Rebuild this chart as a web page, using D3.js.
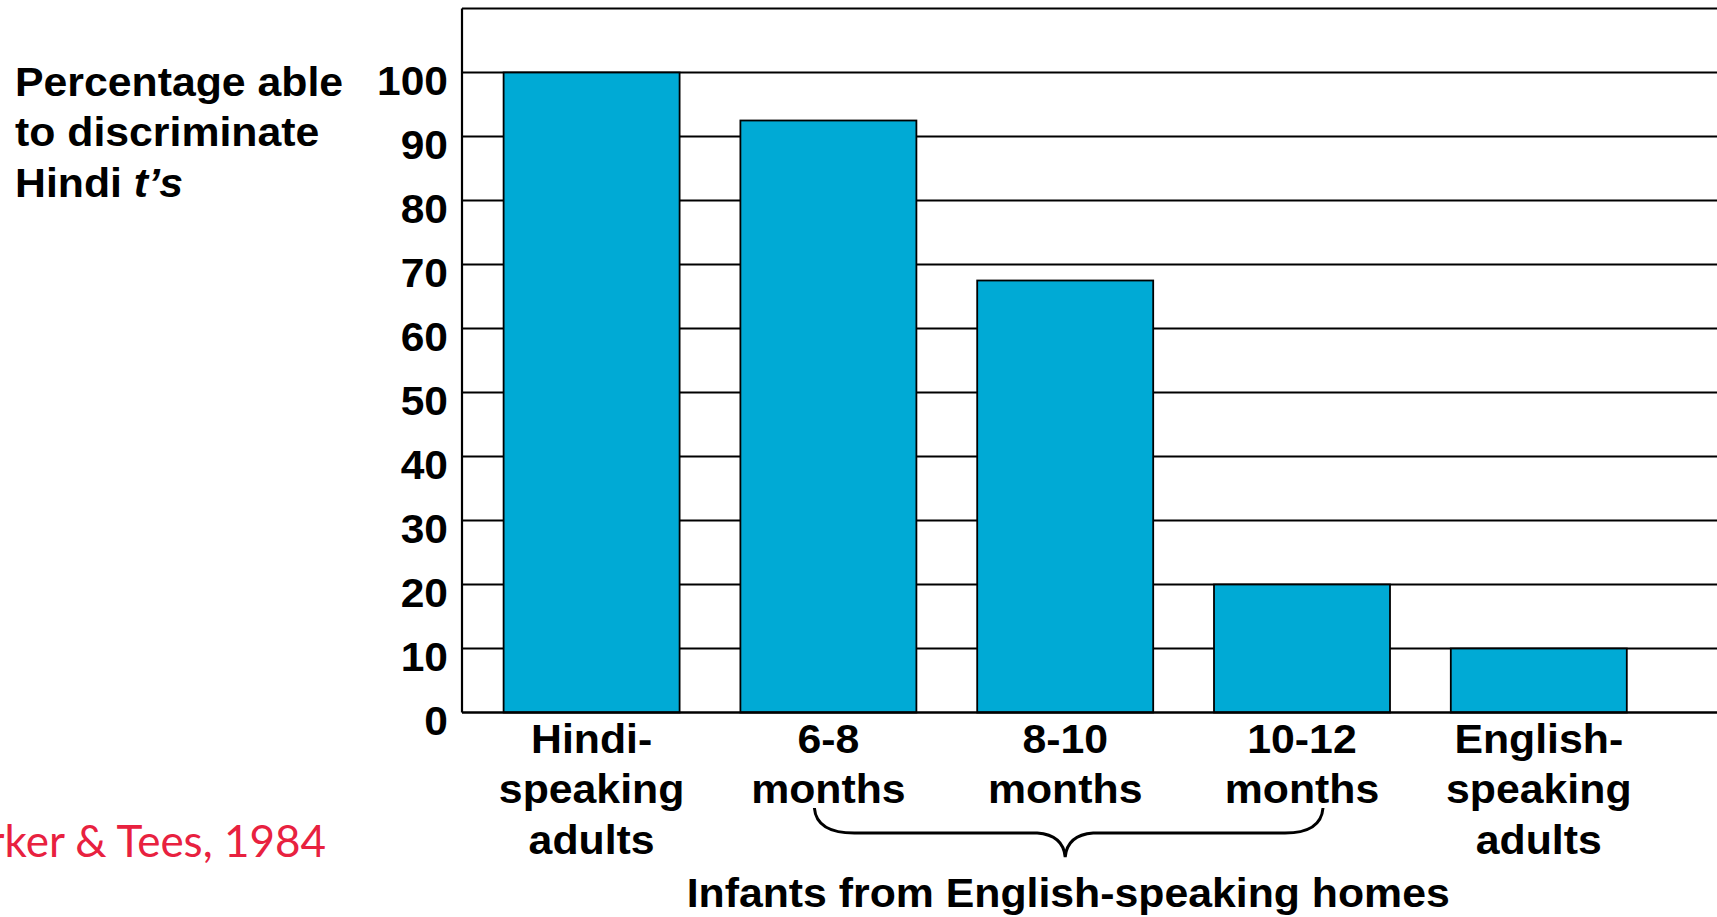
<!DOCTYPE html>
<html>
<head>
<meta charset="utf-8">
<script src="https://cdn.jsdelivr.net/npm/d3@7"></script>
<style>
  html, body { margin: 0; padding: 0; background: #ffffff; overflow: hidden; }
  svg { display: block; }
  text { font-family: "Liberation Sans", Arial, Helvetica, sans-serif; font-weight: bold; fill: #000; }
</style>
</head>
<body>
<svg id="chart" width="1717" height="917"></svg>
<script>
// Share of listeners able to tell apart the two Hindi "t" sounds
const categories = ["hindiAdults", "m6to8", "m8to10", "m10to12", "englishAdults"];
const categoryLabels = [
  ["Hindi-", "speaking", "adults"],
  ["6-8", "months"],
  ["8-10", "months"],
  ["10-12", "months"],
  ["English-", "speaking", "adults"]
];
const percentages = [100, 92.5, 67.5, 20, 10];
const tickValues = [0, 10, 20, 30, 40, 50, 60, 70, 80, 90, 100];
const gridValues = [10, 20, 30, 40, 50, 60, 70, 80, 90, 100, 110];
const infantGroup = ["m6to8", "m8to10", "m10to12"];
const groupLabel = "Infants from English-speaking homes";
const yTitleLines = ["Percentage able", "to discriminate"];
const citation = "Werker & Tees, 1984";

const svg = d3.select("#chart");

// slightly widened lettering, scaled about a given anchor x
const widen = (ax, k) => `translate(${ax},0) scale(${k},1) translate(${-ax},0)`;
const K = 1.07;

// plot frame
const plotLeft = 462, plotRight = 1740;
const yBottom = 712.5, yTop = 8.5;
const y = d3.scaleLinear().domain([0, 110]).range([yBottom, yTop]);

// bands: width 176, step 236.8, first band at 503.6
const step = 236.8, bandW = 176;
const pInner = (step - bandW) / step, pOuter = 0.2;
const firstBand = 503.6;
const r0 = firstBand - pOuter * step;
const r1 = r0 + step * (categories.length - pInner + 2 * pOuter);
const x = d3.scaleBand().domain(categories).range([r0, r1])
  .paddingInner(pInner).paddingOuter(pOuter);

// horizontal grid lines (drawn behind the bars)
svg.append("g").selectAll("line").data(gridValues).join("line")
  .attr("x1", plotLeft).attr("x2", plotRight)
  .attr("y1", d => y(d)).attr("y2", d => y(d))
  .attr("stroke", "#000").attr("stroke-width", 2);

// bars
svg.append("g").selectAll("rect").data(categories).join("rect")
  .attr("x", d => x(d))
  .attr("y", (d, i) => y(percentages[i]))
  .attr("width", x.bandwidth())
  .attr("height", (d, i) => y(0) - y(percentages[i]))
  .attr("fill", "#00AAD5")
  .attr("stroke", "#000").attr("stroke-width", 1.8);

// left axis line and baseline
svg.append("line").attr("x1", plotLeft).attr("x2", plotLeft)
  .attr("y1", y(110)).attr("y2", y(0)).attr("stroke", "#000").attr("stroke-width", 2.2);
svg.append("line").attr("x1", plotLeft).attr("x2", plotRight)
  .attr("y1", y(0)).attr("y2", y(0)).attr("stroke", "#000").attr("stroke-width", 2.5);

// y tick labels
const tickPad = 14;
const yAxis = d3.axisLeft(y).tickValues(tickValues).tickSize(0).tickPadding(tickPad);
const gy = svg.append("g").attr("transform", `translate(${plotLeft},0)`).call(yAxis);
gy.select(".domain").remove();
gy.selectAll(".tick text")
  .attr("dy", null)
  .attr("y", 22)
  .attr("transform", widen(-tickPad, 1.05))
  .style("font-size", "40.5px")
  .style("font-family", "'Liberation Sans', Arial, sans-serif")
  .style("font-weight", "bold")
  .attr("fill", "#000");

// y title
const yt = svg.append("text").attr("x", 15).attr("y", 96)
  .attr("transform", widen(15, K)).style("font-size", "40px");
yTitleLines.forEach((ln, i) => {
  yt.append("tspan").attr("x", 15).attr("y", 96 + i * 50.5).text(ln);
});
yt.append("tspan").attr("x", 15).attr("y", 96 + 2 * 50.5).text("Hindi ");
yt.append("tspan").style("font-style", "italic").text("t\u2019s");

// category labels
const lg = svg.append("g");
categories.forEach((c, i) => {
  const cx = x(c) + x.bandwidth() / 2;
  const t = lg.append("text").attr("text-anchor", "middle")
    .attr("transform", widen(cx, K)).style("font-size", "40px");
  categoryLabels[i].forEach((ln, j) => {
    t.append("tspan").attr("x", cx).attr("y", 753 + j * 50.5).text(ln);
  });
});

// brace under the infant groups
const cx0 = x(infantGroup[0]) + bandW / 2 - 14;
const cxm = x(infantGroup[1]) + bandW / 2;
const cx1 = x(infantGroup[2]) + bandW / 2 + 21;
const yTopB = 808, yMid = 833, yTip = 857;
const p = d3.path();
p.moveTo(cx0, yTopB);
p.quadraticCurveTo(cx0 + 2, yMid, cx0 + 40, yMid);
p.lineTo(cxm - 28, yMid);
p.quadraticCurveTo(cxm - 2, yMid + 2, cxm, yTip);
p.quadraticCurveTo(cxm + 2, yMid + 2, cxm + 28, yMid);
p.lineTo(cx1 - 38, yMid);
p.quadraticCurveTo(cx1 - 2, yMid, cx1, yTopB);
svg.append("path").attr("d", p.toString())
  .attr("fill", "none").attr("stroke", "#000").attr("stroke-width", 3);

svg.append("text").attr("x", cxm + 3).attr("y", 907)
  .attr("text-anchor", "middle").attr("transform", widen(cxm + 3, K))
  .style("font-size", "40px").text(groupLabel);

// citation
svg.append("text").attr("x", 326).attr("y", 857).attr("text-anchor", "end")
  .style("font-family", "Lato, 'Open Sans', sans-serif").style("font-weight", "normal")
  .style("font-size", "44px").style("fill", "#E8213F").text(citation);
</script>
</body>
</html>
